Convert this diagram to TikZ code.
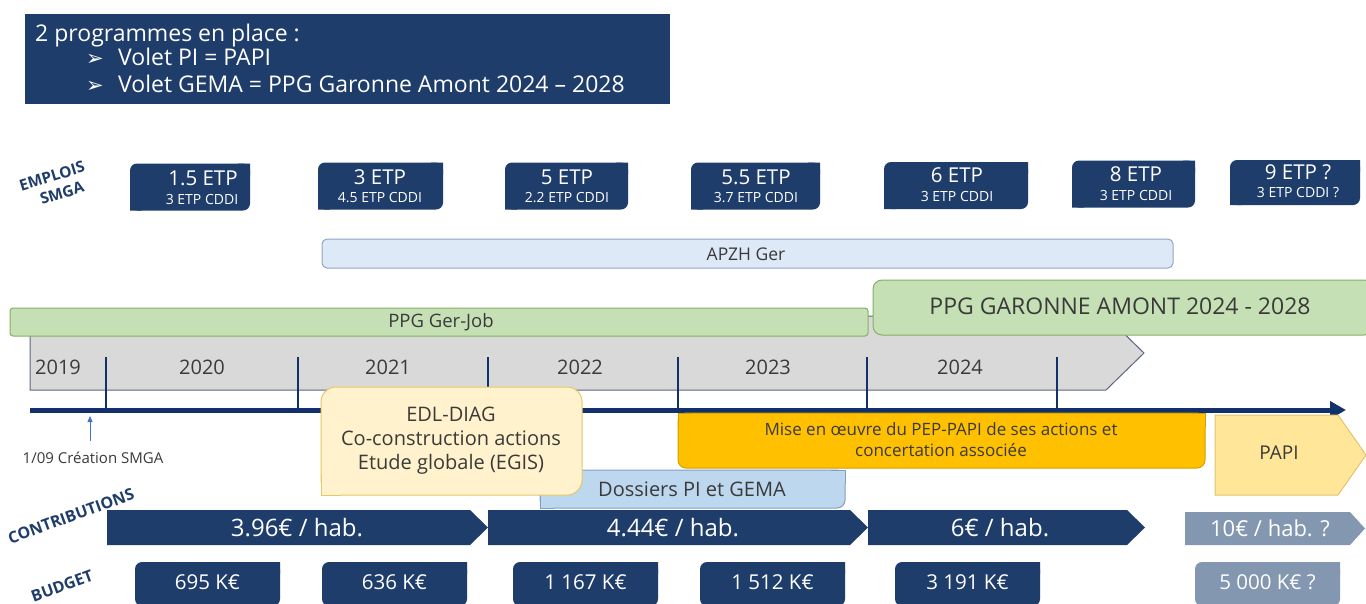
\documentclass[tikz,border=0pt]{standalone}
\usepackage{fontspec}
\setmainfont{Open Sans}
\newfontfamily\dejavu{DejaVu Sans}
\usetikzlibrary{arrows.meta}
\definecolor{dblue}{HTML}{1F3D6B}
\definecolor{navy}{HTML}{12306B}
\definecolor{greyfill}{HTML}{D9D9D9}
\definecolor{greyborder}{HTML}{5A6780}
\definecolor{greenfill}{HTML}{C5E0B4}
\definecolor{greenborder}{HTML}{86B063}
\definecolor{apzhfill}{HTML}{DEE9F7}
\definecolor{apzhborder}{HTML}{8FA5C5}
\definecolor{dosfill}{HTML}{BDD7EE}
\definecolor{dosborder}{HTML}{7F9FC7}
\definecolor{edlfill}{HTML}{FFF2CC}
\definecolor{edlborder}{HTML}{E8C766}
\definecolor{orangefill}{HTML}{FFC000}
\definecolor{orangeborder}{HTML}{D4A000}
\definecolor{papifill}{HTML}{FFE699}
\definecolor{papiborder}{HTML}{E4C46C}
\definecolor{gblue}{HTML}{8497B0}
\definecolor{txt}{HTML}{3A3A3A}
\definecolor{smallarrow}{HTML}{4472C4}
\newcommand\sharpNE[3][12]{\path[#3] ([xshift=-#1pt]#2.north east) -- (#2.north east) -- ([yshift=-#1pt]#2.north east);}
\newcommand\sharpSW[3][12]{\path[#3] ([xshift=#1pt]#2.south west) -- (#2.south west) -- ([yshift=#1pt]#2.south west);}
\newcommand\sharpNW[3][12]{\path[#3] ([xshift=#1pt]#2.north west) -- (#2.north west) -- ([yshift=-#1pt]#2.north west);}
\tikzset{
  box/.style={inner sep=0pt, outer sep=0pt, align=center},
  etp/.style={box, fill=#1, rounded corners=7pt, minimum height=47pt},
  etp/.default=dblue,
  etpa/.style={inner sep=0pt, text=white, font=\fontsize{20.5}{22}\selectfont},
  etpb/.style={inner sep=0pt, text=white, font=\fontsize{14}{16}\selectfont},
  bud/.style={box, fill=#1, rounded corners=7pt, minimum height=44pt, minimum width=145pt},
  bud/.default=dblue,
  budt/.style={inner sep=0pt, text=white, font=\fontsize{20.5}{24}\selectfont},
  lab/.style={inner sep=0pt, text=dblue, font=\bfseries\fontsize{15.5}{17}\selectfont},
  year/.style={inner sep=0pt, text=txt, font=\fontsize{20}{22}\selectfont},
  tick/.style={navy, line width=2.5pt},
  ctext/.style={inner sep=0pt, text=white, font=\fontsize{24}{28}\selectfont},
  wtext/.style={inner sep=0pt, text=white, font=\fontsize{23}{26}\selectfont, anchor=base west},
  bullet/.style={inner sep=0pt, text=white, font=\dejavu\fontsize{21}{24}\selectfont, anchor=base west},
}
\begin{document}
\begin{tikzpicture}[x=1pt,y=-1pt]
\useasboundingbox (0,0) rectangle (1366,603);
\fill[white] (0,0) rectangle (1366,603);

% top box
\node[box, fill=dblue, minimum width=645pt, minimum height=90pt, anchor=north west] (top) at (25,14) {};
\node[wtext] (t1) at (35,41) {2 programmes en place :};
\node[bullet] (t2b) at (86,65) {➢};
\node[wtext] (t2) at (118,65) {Volet PI = PAPI};
\node[bullet] (t3b) at (86,92) {➢};
\node[wtext] (t3) at (118,92) {Volet GEMA = PPG Garonne Amont 2024 – 2028};

% emplois
\node[lab, rotate=17] (emp1) at (52,176) {EMPLOIS};
\node[lab, rotate=17] (emp2) at (62,193) {SMGA};
\node[etp, minimum width=120pt] (e1) at (190,187) {};
\node[etp, minimum width=125pt] (e2) at (380.5,186) {};
\node[etp, minimum width=123pt] (e3) at (566.5,186) {};
\node[etp, minimum width=129pt] (e4) at (755.5,186) {};
\node[etp, minimum width=144pt] (e5) at (956,185.5) {};
\node[etp, minimum width=123pt] (e6) at (1133.5,184) {};
\node[etp, minimum width=130pt, minimum height=45pt] (e7) at (1295,182.5) {};
\foreach \n in {e1,e2,e3,e4,e5,e6,e7}{\sharpNE{\n}{fill=dblue}\sharpSW{\n}{fill=dblue}}
\node[etpa] (e1a) at (203,178) {1.5 ETP};   \node[etpb] (e1b) at (202,199) {3 ETP CDDI};
\node[etpa] (e2a) at (380,177) {3 ETP};     \node[etpb] (e2b) at (380,198) {4.5 ETP CDDI};
\node[etpa] (e3a) at (567,177) {5 ETP};     \node[etpb] (e3b) at (567,198) {2.2 ETP CDDI};
\node[etpa] (e4a) at (756,177) {5.5 ETP};   \node[etpb] (e4b) at (756,198) {3.7 ETP CDDI};
\node[etpa] (e5a) at (957,175) {6 ETP};     \node[etpb] (e5b) at (957,196) {3 ETP CDDI};
\node[etpa] (e6a) at (1136,174) {8 ETP};    \node[etpb] (e6b) at (1136,195) {3 ETP CDDI};
\node[etpa] (e7a) at (1298,172) {9 ETP ?};  \node[etpb] (e7b) at (1298,193) {3 ETP CDDI ?};

% APZH
\node[box, fill=apzhfill, draw=apzhborder, line width=1pt, rounded corners=5pt, minimum width=851pt, minimum height=29pt] (apzh) at (747.5,253.5) {};
\node[inner sep=0pt, text=txt, font=\fontsize{17.5}{20}\selectfont] (apzhT) at (746,254) {APZH Ger};

% timeline pentagon
\path[fill=greyfill, draw=greyborder, line width=1pt] (30,316) -- (1106,316) -- (1144,353) -- (1106,390) -- (30,390) -- cycle;
\node[year] (y19) at (58,367) {2019};
\node[year] (y20) at (202,367) {2020};
\node[year] (y21) at (388,367) {2021};
\node[year] (y22) at (580,367) {2022};
\node[year] (y23) at (768,367) {2023};
\node[year] (y24) at (960,367) {2024};

% PPG boxes
\node[box, fill=greenfill, draw=greenborder, line width=1pt, rounded corners=3pt, minimum width=858pt, minimum height=28pt] (ger) at (439,322) {};
\node[inner sep=0pt, text=txt, font=\fontsize{18.5}{22}\selectfont] (gerT) at (441,322) {PPG Ger-Job};
\node[box, fill=greenfill, draw=greenborder, line width=1pt, rounded corners=9pt, minimum width=500pt, minimum height=55pt] (gar) at (1123,307.5) {};
\node[inner sep=0pt, text=txt, font=\fontsize{23}{26}\selectfont] (garT) at (1120,306) {PPG GARONNE AMONT 2024 - 2028};

% ticks and axis
\coordinate (ax0) at (30,410);
\coordinate (ax1) at (1346,410);
\foreach \x in {106,298,488,678,867,1057}{\draw[tick] (\x,357) -- (\x,410);}
\draw[navy, line width=5pt, -{Triangle[length=16pt,width=17pt]}] (ax0) -- (ax1);

% small arrow + creation
\node[inner sep=0pt, text=txt, font=\fontsize{15}{17}\selectfont] (crea) at (93,458) {1/09 Création SMGA};
\coordinate (cr1) at (90,441);
\coordinate (cr0) at (90,416);
\draw[smallarrow, line width=0.8pt, -{Triangle[length=6pt,width=5pt]}] (cr1) -- (cr0);

% Mise en oeuvre
\node[box, fill=orangefill, draw=orangeborder, line width=1pt, rounded corners=8pt, minimum width=527pt, minimum height=55pt] (mise) at (941.5,440.5) {};
\sharpNW[14]{mise}{fill=orangefill, draw=orangeborder, line width=1pt}
\sharpNE[14]{mise}{fill=orangefill, draw=orangeborder, line width=1pt}
\node[inner sep=0pt, text=txt, font=\fontsize{17}{21}\selectfont, align=center] (miseT) at (941,440) {Mise en œuvre du PEP-PAPI de ses actions et\\concertation associée};

% Dossiers
\node[box, fill=dosfill, draw=dosborder, line width=1pt, rounded corners=8pt, minimum width=305pt, minimum height=38pt] (dos) at (692.5,489) {};
\sharpNE[14]{dos}{fill=dosfill, draw=dosborder, line width=1pt}
\sharpSW[14]{dos}{fill=dosfill, draw=dosborder, line width=1pt}
\node[inner sep=0pt, text=txt, font=\fontsize{20}{24}\selectfont] (dosT) at (692,489) {Dossiers PI et GEMA};

% EDL
\node[box, fill=edlfill, draw=edlborder, line width=1pt, rounded corners=15pt, minimum width=261pt, minimum height=108pt] (edl) at (451.5,441) {};
\sharpSW[20]{edl}{fill=edlfill, draw=edlborder, line width=1pt}
\node[inner sep=0pt, text=txt, font=\fontsize{20}{24}\selectfont, align=center] (edlT) at (451,441) {EDL-DIAG\\Co-construction actions\\Etude globale (EGIS)};

% PAPI
\path[fill=papifill, draw=papiborder, line width=1pt] (1215,415) -- (1338,415) -- (1366,455) -- (1338,495) -- (1215,495) -- cycle;
\node[inner sep=0pt, text=txt, font=\fontsize{19}{22}\selectfont] (papi) at (1279,453) {PAPI};

% contributions
\node[lab, rotate=20, font=\bfseries\fontsize{16}{18}\selectfont] (contrib) at (71,516) {CONTRIBUTIONS};
\fill[dblue] (107,510) -- (470,510) -- (488,527.5) -- (470,545) -- (107,545) -- cycle;
\fill[dblue] (488,510) -- (850,510) -- (868,527.5) -- (850,545) -- (488,545) -- cycle;
\fill[dblue] (868,510) -- (1127,510) -- (1145,527.5) -- (1127,545) -- (868,545) -- cycle;
\fill[gblue] (1185,512) -- (1350,512) -- (1365,528.5) -- (1350,545) -- (1185,545) -- cycle;
\node[ctext] (c1) at (297,527.5) {3.96€ / hab.};
\node[ctext] (c2) at (673,527.5) {4.44€ / hab.};
\node[ctext] (c3) at (1000,527.5) {6€ / hab.};
\node[ctext, font=\fontsize{22}{26}\selectfont] (c4) at (1270,528.5) {10€ / hab. ?};

% budget
\node[lab, rotate=20, font=\bfseries\fontsize{16}{18}\selectfont] (budget) at (62,586) {BUDGET};
\node[bud] (b1) at (207.5,584) {};
\node[bud] (b2) at (394.5,584) {};
\node[bud] (b3) at (585.5,584) {};
\node[bud] (b4) at (772.5,584) {};
\node[bud] (b5) at (967.5,584) {};
\node[bud=gblue] (b6) at (1267.5,584) {};
\foreach \n in {b1,b2,b3,b4,b5}{\sharpNE{\n}{fill=dblue}}
\sharpNE{b6}{fill=gblue}
\node[budt] (b1t) at (207.5,582) {695 K€};
\node[budt] (b2t) at (394.5,582) {636 K€};
\node[budt] (b3t) at (585.5,582) {1 167 K€};
\node[budt] (b4t) at (772.5,582) {1 512 K€};
\node[budt] (b5t) at (967.5,582) {3 191 K€};
\node[budt] (b6t) at (1267.5,582) {5 000 K€ ?};
\end{tikzpicture}
\end{document}
